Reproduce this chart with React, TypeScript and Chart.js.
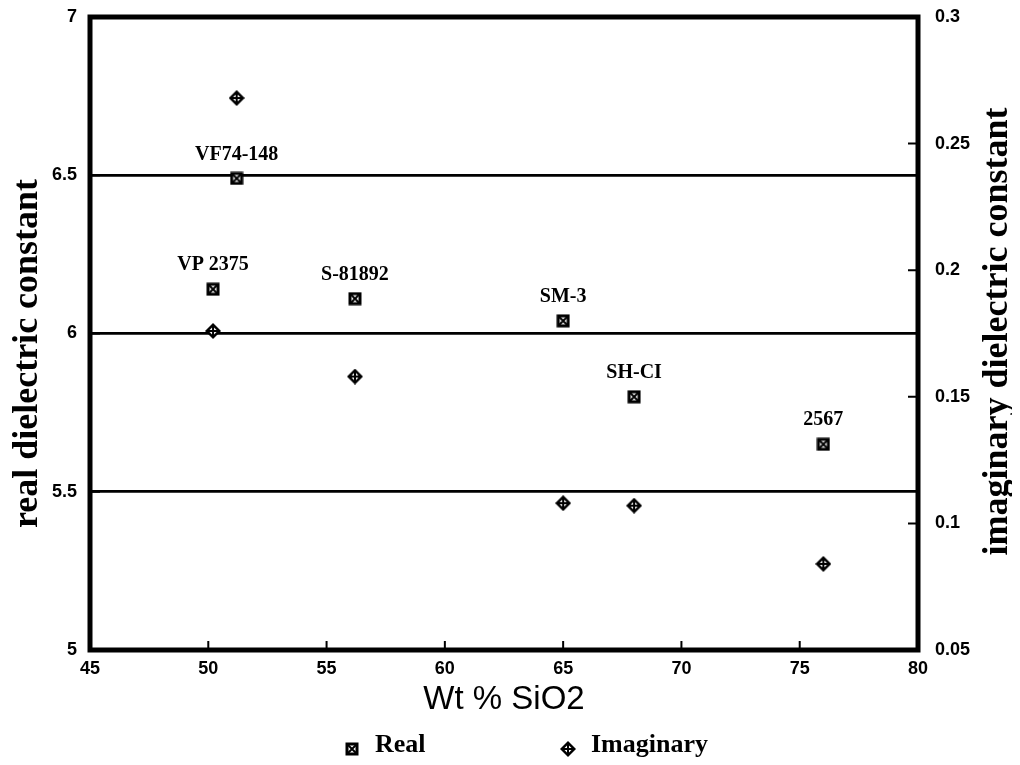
import React, { useEffect, useRef } from "react";
import { Chart, registerables } from "chart.js";

Chart.register(...registerables);

// ---- data ----
const silicaPct = [51.2, 50.2, 56.2, 65.0, 68.0, 76.0];
const realValues = [6.49, 6.14, 6.11, 6.04, 5.8, 5.65];
const imaginaryValues = [0.268, 0.176, 0.158, 0.108, 0.107, 0.084];
const sampleNames = ["VF74-148", "VP 2375", "S-81892", "SM-3", "SH-CI", "2567"];
const xTickValues = [45, 50, 55, 60, 65, 70, 75, 80];
const leftTickValues = [5, 5.5, 6, 6.5, 7];
const rightTickValues = [0.05, 0.1, 0.15, 0.2, 0.25, 0.3];
const seriesLabels = ["Real", "Imaginary"];
const xTitle = "Wt % SiO2";
const leftTitle = "real dielectric constant";
const rightTitle = "imaginary dielectric constant";

const SERIF = "'Liberation Serif', 'Times New Roman', serif";
const SANS = "'Liberation Sans', Arial, sans-serif";

function makeSquareMarker(): HTMLCanvasElement {
  const c = document.createElement("canvas");
  c.width = 14;
  c.height = 14;
  const g = c.getContext("2d")!;
  g.fillStyle = "#000";
  g.fillRect(0.5, 0.5, 13, 13);
  g.fillStyle = "#fff";
  g.fillRect(3.5, 3.5, 7, 7);
  g.strokeStyle = "#000";
  g.lineWidth = 2;
  g.beginPath();
  g.moveTo(3, 3);
  g.lineTo(11, 11);
  g.moveTo(11, 3);
  g.lineTo(3, 11);
  g.stroke();
  return c;
}

function makeDiamondMarker(): HTMLCanvasElement {
  const c = document.createElement("canvas");
  c.width = 16;
  c.height = 16;
  const g = c.getContext("2d")!;
  g.fillStyle = "#000";
  g.beginPath();
  g.moveTo(8, 0);
  g.lineTo(16, 8);
  g.lineTo(8, 16);
  g.lineTo(0, 8);
  g.closePath();
  g.fill();
  g.fillStyle = "#fff";
  g.beginPath();
  g.moveTo(8, 3.5);
  g.lineTo(12.5, 8);
  g.lineTo(8, 12.5);
  g.lineTo(3.5, 8);
  g.closePath();
  g.fill();
  g.strokeStyle = "#000";
  g.lineWidth = 2;
  g.beginPath();
  g.moveTo(8, 3);
  g.lineTo(8, 13);
  g.moveTo(3, 8);
  g.lineTo(13, 8);
  g.stroke();
  return c;
}

const zeroPad = (s: any) => {
  s.paddingTop = 0;
  s.paddingBottom = 0;
  s.paddingLeft = 0;
  s.paddingRight = 0;
};

export default function App() {
  const ref = useRef<HTMLCanvasElement | null>(null);

  useEffect(() => {
    if (!ref.current) return;
    const sq = makeSquareMarker();
    const di = makeDiamondMarker();
    const markers = [sq, di];

    const decor = {
      id: "decor",
      afterDatasetsDraw(chart: any) {
        const ctx = chart.ctx;
        const a = chart.chartArea;
        const xs = chart.scales.x;
        const yl = chart.scales.y;
        const yr = chart.scales.y1;
        ctx.save();
        // point labels
        const meta = chart.getDatasetMeta(0);
        ctx.fillStyle = "#000";
        ctx.font = `bold 20px ${SERIF}`;
        ctx.textAlign = "center";
        ctx.textBaseline = "middle";
        meta.data.forEach((pt: any, i: number) => {
          ctx.fillText(sampleNames[i], pt.x, pt.y - 24);
        });
        // frame
        ctx.strokeStyle = "#000";
        ctx.lineWidth = 5;
        ctx.strokeRect(a.left, a.top, a.right - a.left, a.bottom - a.top);
        // inward ticks
        ctx.lineWidth = 2;
        ctx.beginPath();
        xTickValues.forEach((v) => {
          const px = xs.getPixelForValue(v);
          ctx.moveTo(px, a.bottom);
          ctx.lineTo(px, a.bottom - 9);
        });
        rightTickValues.forEach((v) => {
          const py = yr.getPixelForValue(v);
          ctx.moveTo(a.right, py);
          ctx.lineTo(a.right - 10, py);
        });
        leftTickValues.forEach((v) => {
          const py = yl.getPixelForValue(v);
          ctx.moveTo(a.left, py);
          ctx.lineTo(a.left + 10, py);
        });
        ctx.stroke();
        // axis titles (both read bottom-to-top)
        ctx.font = `bold 36px ${SERIF}`;
        ctx.textAlign = "center";
        ctx.textBaseline = "middle";
        ctx.save();
        ctx.translate(20, (a.top + a.bottom) / 2 + 20);
        ctx.rotate(-Math.PI / 2);
        ctx.fillText(leftTitle, 0, 0);
        ctx.restore();
        ctx.save();
        ctx.translate(chart.width - 14, (a.top + a.bottom) / 2 - 2);
        ctx.rotate(-Math.PI / 2);
        ctx.fillText(rightTitle, 0, 0);
        ctx.restore();
        // legend
        const cx = (a.left + a.right) / 2;
        const ly = chart.height - 12;
        const starts = [cx - 152, cx + 64];
        ctx.font = `bold 26px ${SERIF}`;
        ctx.textAlign = "left";
        starts.forEach((sx, i) => {
          const m = markers[i];
          ctx.drawImage(m, sx - m.width / 2, ly - m.height / 2 + 4);
          ctx.fillText(seriesLabels[i], sx + 23, ly);
        });
        ctx.restore();
      },
    };

    const chart = new Chart(ref.current, {
      type: "scatter",
      data: {
        datasets: [
          {
            label: seriesLabels[0],
            data: silicaPct.map((x, i) => ({ x, y: realValues[i] })),
            yAxisID: "y",
            pointStyle: sq as any,
            pointRadius: 7,
            pointHoverRadius: 7,
          },
          {
            label: seriesLabels[1],
            data: silicaPct.map((x, i) => ({ x, y: imaginaryValues[i] })),
            yAxisID: "y1",
            pointStyle: di as any,
            pointRadius: 8,
            pointHoverRadius: 8,
          },
        ],
      },
      options: {
        animation: false,
        responsive: true,
        maintainAspectRatio: false,
        layout: { padding: { top: 8, bottom: 40, left: 0, right: 0 } },
        plugins: {
          legend: { display: false },
          tooltip: { enabled: false },
        },
        scales: {
          x: {
            type: "linear",
            min: 45,
            max: 80,
            afterBuildTicks: (s: any) => {
              s.ticks = xTickValues.map((v) => ({ value: v }));
            },
            afterFit: (s: any) => {
              s.height = 67;
              zeroPad(s);
            },
            grid: { display: false, drawTicks: false },
            border: { display: false },
            ticks: {
              color: "#000",
              padding: 8,
              maxRotation: 0,
              font: { family: SANS, size: 18, weight: "bold" },
              callback: (v: any) => String(Number(v)),
            },
            title: {
              display: true,
              text: xTitle,
              color: "#000",
              padding: { top: 0, bottom: 0 },
              font: { family: SANS, size: 33, lineHeight: 1.05 },
            },
          },
          y: {
            type: "linear",
            position: "left",
            min: 5,
            max: 7,
            afterBuildTicks: (s: any) => {
              s.ticks = leftTickValues.map((v) => ({ value: v }));
            },
            afterFit: (s: any) => {
              s.width = 82;
              zeroPad(s);
            },
            grid: { color: "#000", lineWidth: 2.8, drawTicks: false },
            border: { display: false },
            ticks: {
              color: "#000",
              padding: 13,
              font: { family: SANS, size: 18, weight: "bold" },
              callback: (v: any) => String(Number(v)),
            },
          },
          y1: {
            type: "linear",
            position: "right",
            min: 0.05,
            max: 0.3,
            afterBuildTicks: (s: any) => {
              s.ticks = rightTickValues.map((v) => ({ value: v }));
            },
            afterFit: (s: any) => {
              s.width = 94;
              zeroPad(s);
            },
            grid: { display: false, drawTicks: false },
            border: { display: false },
            ticks: {
              color: "#000",
              padding: 17,
              font: { family: SANS, size: 18, weight: "bold" },
              callback: (v: any) => String(Number(v)),
            },
          },
        },
      },
      plugins: [decor],
    });
    return () => chart.destroy();
  }, []);

  return (
    <div style={{ width: 1004, height: 749, position: "relative" }}>
      <canvas ref={ref} />
    </div>
  );
}
